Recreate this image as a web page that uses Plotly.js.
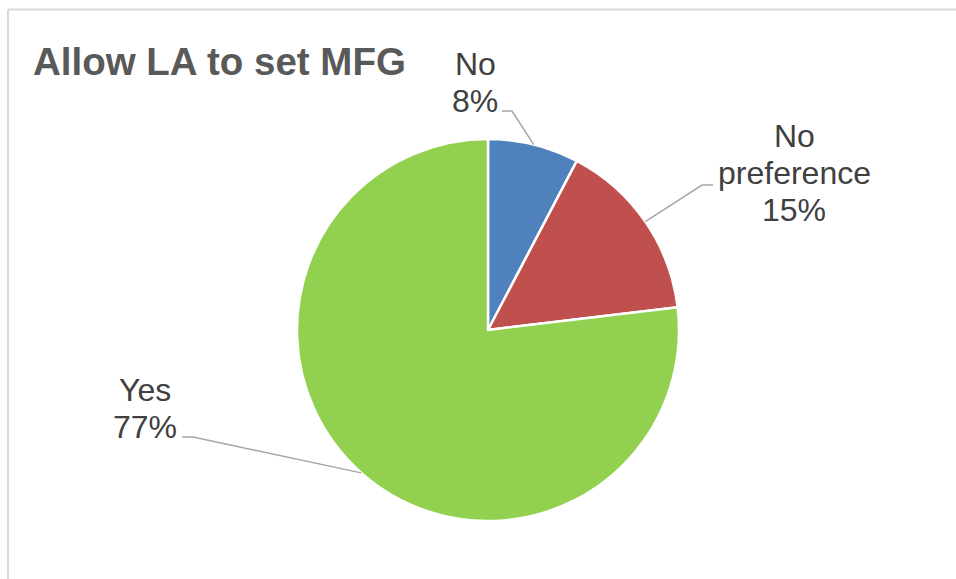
<!DOCTYPE html>
<html>
<head>
<meta charset="utf-8">
<script src="https://cdn.plot.ly/plotly-3.0.1.min.js"></script>
<style>html,body{margin:0;padding:0;background:#fff;}#chart{width:956px;height:579px;}</style>
</head>
<body>
<div id="chart"></div>
<script>
// Data
const categories = ['No', 'No preference', 'Yes'];
const values = [7.7, 15.4, 76.9];
const colors = ['#4F81BD', '#C0504D', '#92D050'];
const labelLines = [['No'], ['No', 'preference'], ['Yes']];
const chartTitle = 'Allow LA to set MFG';

// Layout geometry (pixels)
const W = 956, H = 579;
const cx = 488, cy = 330, R = 191;
const labelX = [475, 794, 145];
const labelFirstLineY = [64, 136, 390];
const lineSpacing = 37;
const labelEnds = [[502, 111], [713, 185], [182, 437]];
const elbows = [[512, 111], [702, 185], [193, 437]];

const X = p => p / W;
const Y = p => 1 - p / H;

const total = values.reduce((a, b) => a + b, 0);
let cum = 0;
const annotations = [];
const shapes = [];
values.forEach((v, i) => {
  const midFrac = (cum + v / 2) / total;
  cum += v;
  const ang = midFrac * 2 * Math.PI; // clockwise from 12 o'clock
  const ex = cx + R * Math.sin(ang);
  const ey = cy - R * Math.cos(ang);
  const pct = Math.round(v / total * 100) + '%';
  const lines = labelLines[i].concat([pct]);
  lines.forEach((t, k) => {
    annotations.push({
      xref: 'paper', yref: 'paper',
      x: X(labelX[i]), y: Y(labelFirstLineY[i] + k * lineSpacing),
      xanchor: 'center', yanchor: 'middle',
      text: t, showarrow: false,
      font: {family: 'Liberation Sans, Arial, sans-serif', size: 32, color: '#404040'}
    });
  });
  shapes.push({
    type: 'path', xref: 'paper', yref: 'paper',
    path: `M ${X(labelEnds[i][0])} ${Y(labelEnds[i][1])} L ${X(elbows[i][0])} ${Y(elbows[i][1])} L ${X(ex)} ${Y(ey)}`,
    line: {color: '#A6A6A6', width: 1.5}
  });
});

// chart border (top and left visible)
shapes.push({type: 'line', xref: 'paper', yref: 'paper', x0: X(8), x1: 1.01, y0: Y(9.5), y1: Y(9.5), line: {color: '#D9D9D9', width: 2}});
shapes.push({type: 'line', xref: 'paper', yref: 'paper', x0: X(8), x1: X(8), y0: Y(9.5), y1: -0.01, line: {color: '#D9D9D9', width: 2}});

const trace = {
  type: 'pie',
  labels: categories,
  values: values,
  sort: false,
  direction: 'clockwise',
  rotation: 0,
  textinfo: 'none',
  hoverinfo: 'label+percent',
  marker: {colors: colors, line: {color: '#FFFFFF', width: 2.5}},
  domain: {x: [X(cx - R), X(cx + R)], y: [Y(cy + R), Y(cy - R)]},
  showlegend: false
};

const layout = {
  width: W, height: H,
  margin: {l: 0, r: 0, t: 0, b: 0},
  paper_bgcolor: '#FFFFFF',
  showlegend: false,
  title: {
    text: '<b>' + chartTitle + '</b>',
    x: X(33), xanchor: 'left', xref: 'container',
    y: Y(62), yanchor: 'middle', yref: 'container',
    font: {family: 'Liberation Sans, Arial, sans-serif', size: 38.5, color: '#595959'}
  },
  annotations: annotations,
  shapes: shapes
};

Plotly.newPlot('chart', [trace], layout, {displayModeBar: false});
</script>
</body>
</html>
